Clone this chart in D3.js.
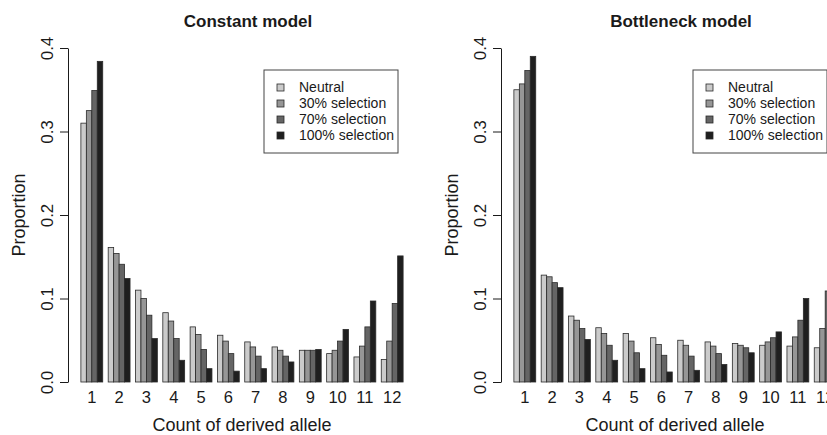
<!doctype html>
<html lang="en">
<head>
<meta charset="UTF-8">
<title>Derived allele counts</title>
<script src="https://cdn.jsdelivr.net/npm/d3@7"></script>
<style>
  body { margin: 0; background: #fff; }
  svg { display: block; font-family: "Liberation Sans", Arial, Helvetica, sans-serif; }
</style>
</head>
<body>
<script>
// counts of the derived allele (x categories)
var categories = ["1", "2", "3", "4", "5", "6", "7", "8", "9", "10", "11", "12"];
var seriesNames = ["Neutral", "30% selection", "70% selection", "100% selection"];
var seriesColors = ["#cbcbcb", "#969696", "#656565", "#1f1f1f"];
var yTicks = [0.0, 0.1, 0.2, 0.3, 0.4];

// constant model, proportions
var constNeutral = [0.310, 0.161, 0.110, 0.083, 0.066, 0.056, 0.048, 0.042, 0.038, 0.034, 0.030, 0.027];
var const30      = [0.325, 0.154, 0.100, 0.073, 0.057, 0.049, 0.042, 0.038, 0.038, 0.038, 0.043, 0.049];
var const70      = [0.349, 0.141, 0.080, 0.052, 0.039, 0.034, 0.031, 0.031, 0.038, 0.049, 0.066, 0.094];
var const100     = [0.384, 0.124, 0.052, 0.026, 0.016, 0.013, 0.016, 0.024, 0.039, 0.063, 0.097, 0.151];

// bottleneck model (last group is cut off in the original)
var bottNeutral = [0.350, 0.128, 0.079, 0.065, 0.058, 0.053, 0.050, 0.048, 0.046, 0.044, 0.043, 0.041];
var bott30      = [0.357, 0.126, 0.074, 0.058, 0.049, 0.045, 0.044, 0.043, 0.044, 0.048, 0.054, 0.064];
var bott70      = [0.373, 0.119, 0.064, 0.044, 0.035, 0.032, 0.031, 0.034, 0.041, 0.053, 0.074, 0.109];
var bott100     = [0.390, 0.113, 0.051, 0.026, 0.016, 0.012, 0.014, 0.021, 0.035, 0.060, 0.100, 0.160];

var W = 827, H = 435;
var ink = "#1a1a1a";

var svg = d3.select("body").append("svg")
    .attr("width", W)
    .attr("height", H);

svg.append("rect").attr("width", W).attr("height", H).attr("fill", "#fff");

var y = d3.scaleLinear().domain([0, 0.4]).range([382, 48]);

var panels = [
  { title: "Constant model", left: 68, titleX: 248, legendX: 264,
    series: [constNeutral, const30, const70, const100] },
  { title: "Bottleneck model", left: 501, titleX: 681, legendX: 693,
    series: [bottNeutral, bott30, bott70, bott100] }
];

panels.forEach(function(p) {
  var g = svg.append("g");

  // R style barplot: 4 bars per group, one bar width gap between groups
  var x0 = d3.scaleBand()
      .domain(categories)
      .range([p.left, p.left + 348])
      .paddingInner(0.2)
      .paddingOuter(0.472);
  var x1 = d3.scaleBand()
      .domain(d3.range(seriesNames.length))
      .range([0, x0.bandwidth()]);

  var rows = categories.map(function(c, i) {
    return { cat: c, vals: p.series.map(function(s) { return s[i]; }) };
  });

  g.selectAll("g.grp")
    .data(rows)
    .enter().append("g")
      .attr("class", "grp")
      .attr("transform", function(d) { return "translate(" + x0(d.cat) + ",0)"; })
    .selectAll("rect")
    .data(function(d) { return d.vals; })
    .enter().append("rect")
      .attr("x", function(d, i) { return x1(i); })
      .attr("y", function(d) { return y(d); })
      .attr("width", x1.bandwidth())
      .attr("height", function(d) { return y(0) - y(d); })
      .attr("fill", function(d, i) { return seriesColors[i]; })
      .attr("stroke", "#2a2a2a")
      .attr("stroke-width", 0.8);

  // y axis
  var ya = g.append("g")
      .attr("transform", "translate(" + p.left + ",0)")
      .call(d3.axisLeft(y).tickValues(yTicks).tickSize(8).tickSizeOuter(0).tickFormat(d3.format(".1f")));
  ya.selectAll("path, line").attr("stroke", ink);
  ya.selectAll("text")
      .attr("transform", "rotate(-90)")
      .attr("x", 0).attr("y", -15).attr("dy", 0)
      .attr("text-anchor", "middle")
      .attr("fill", ink)
      .style("font-size", "17px")
      .style("font-family", "Liberation Sans, Arial, sans-serif");

  // x labels only, no axis line
  var xa = g.append("g")
      .attr("transform", "translate(0,382)")
      .call(d3.axisBottom(x0).tickSize(0));
  xa.select(".domain").remove();
  xa.selectAll("text")
      .attr("y", 20.5).attr("dy", 0)
      .attr("fill", ink)
      .style("font-size", "16.5px")
      .style("font-family", "Liberation Sans, Arial, sans-serif");

  // titles
  g.append("text")
      .attr("x", p.titleX).attr("y", 27)
      .attr("text-anchor", "middle")
      .attr("font-weight", "bold")
      .attr("font-size", 17)
      .attr("fill", ink)
      .text(p.title);

  g.append("text")
      .attr("x", p.left + 174).attr("y", 431)
      .attr("text-anchor", "middle")
      .attr("font-size", 18)
      .attr("fill", ink)
      .text("Count of derived allele");

  g.append("text")
      .attr("transform", "translate(" + (p.left - 43) + ",215) rotate(-90)")
      .attr("text-anchor", "middle")
      .attr("font-size", 18)
      .attr("fill", ink)
      .text("Proportion");

  // legend
  var lg = g.append("g").attr("transform", "translate(" + p.legendX + ",70)");
  lg.append("rect")
      .attr("width", 134).attr("height", 83)
      .attr("fill", "#fff")
      .attr("stroke", "#444")
      .attr("stroke-width", 1);
  var item = lg.selectAll("g.item")
      .data(seriesNames)
      .enter().append("g")
      .attr("class", "item")
      .attr("transform", function(d, i) { return "translate(0," + (17.5 + i * 16) + ")"; });
  item.append("rect")
      .attr("x", 13).attr("y", -3.5)
      .attr("width", 7).attr("height", 7)
      .attr("fill", function(d, i) { return seriesColors[i]; })
      .attr("stroke", "#2a2a2a")
      .attr("stroke-width", 0.8);
  item.append("text")
      .attr("x", 35).attr("y", 4.7)
      .attr("font-size", 14)
      .attr("fill", ink)
      .text(function(d) { return d; });
});
</script>
</body>
</html>
